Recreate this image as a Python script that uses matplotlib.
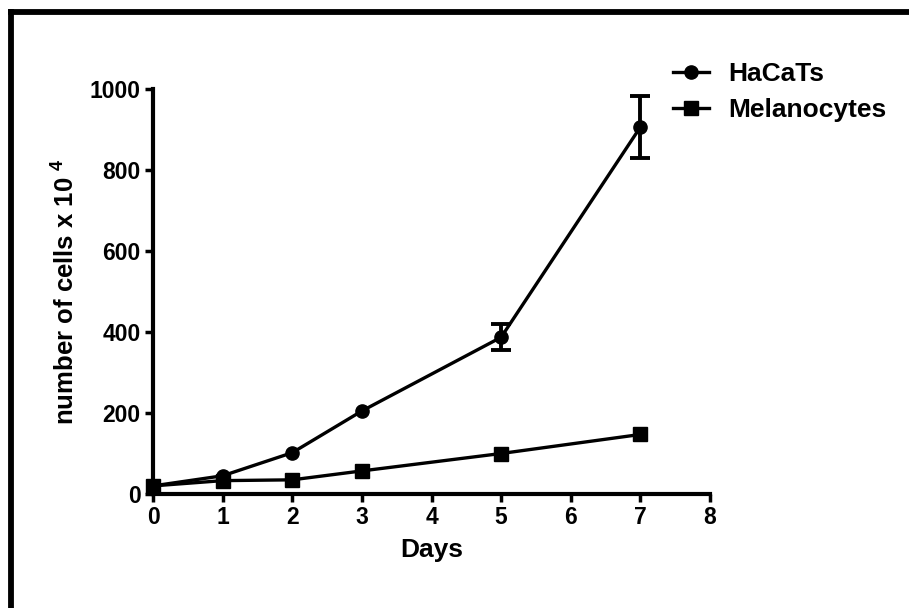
import matplotlib
matplotlib.use('Agg')
import matplotlib.pyplot as plt
from matplotlib.lines import Line2D

plt.rcParams['font.family'] = ['Liberation Sans', 'DejaVu Sans']
plt.rcParams['font.weight'] = 'bold'
plt.rcParams['mathtext.fontset'] = 'custom'
plt.rcParams['mathtext.bf'] = 'Liberation Sans:bold'
plt.rcParams['mathtext.rm'] = 'Liberation Sans:bold'

days = [0, 1, 2, 3, 5, 7]
hacat = [20, 45, 102, 205, 387, 906]
hacat_err = [0, 0, 0, 0, 32, 77]
melano = [20, 33, 35, 57, 100, 147]
melano_err = [0, 0, 0, 0, 0, 0]

x_ticks = [0, 1, 2, 3, 4, 5, 6, 7, 8]
y_ticks = [0, 200, 400, 600, 800, 1000]

fig = plt.figure(figsize=(9.09, 6.08), dpi=100)
ax = fig.add_axes([153 / 909, 1 - 494 / 608, (710 - 153) / 909, (494 - 89) / 608])

lw = 2.4
series = [(hacat, hacat_err, 'o', 'HaCaTs'), (melano, melano_err, 's', 'Melanocytes')]
for vals, errs, mk, name in series:
    ax.plot(days, vals, color='black', lw=lw, marker=mk, ms=9.5, label=name, clip_on=False)
    # only draw error bars that stick out past the marker
    idx = [i for i, e in enumerate(errs) if e > 0]
    if idx:
        ax.errorbar([days[i] for i in idx], [vals[i] for i in idx],
                    yerr=[errs[i] for i in idx], fmt='none', ecolor='black',
                    elinewidth=2.8, capsize=7.5, capthick=2.8, clip_on=False)

ax.set_xlim(0, 8)
ax.set_ylim(0, 1000)
ax.set_xticks(x_ticks)
ax.set_yticks(y_ticks)
ax.spines['top'].set_visible(False)
ax.spines['right'].set_visible(False)
for s in ('left', 'bottom'):
    ax.spines[s].set_linewidth(3)
ax.tick_params(direction='out', length=6, width=2.5, labelsize=16.5, pad=3)
for lab in ax.get_xticklabels() + ax.get_yticklabels():
    lab.set_fontweight('bold')

ax.set_xlabel('Days', fontsize=19, fontweight='bold', labelpad=6)
ax.set_ylabel('number of cells x 10 $^{\\mathbf{4}}$', fontsize=18.5, fontweight='bold',
              labelpad=8)

handles = [Line2D([], [], color='black', lw=lw, marker='o', ms=9.5),
           Line2D([], [], color='black', lw=lw, marker='s', ms=9.5)]
leg = fig.legend(handles, ['HaCaTs', 'Melanocytes'], loc='upper left',
                 bbox_to_anchor=(673 / 909, 1 - 62 / 608), frameon=False,
                 prop={'size': 19, 'weight': 'bold'}, handlelength=1.35,
                 handletextpad=0.75, labelspacing=0.45, borderaxespad=0,
                 borderpad=0)

# frame lines along the top and left edges
fig.add_artist(Line2D([10.5 / 909, 1], [1 - 12 / 608, 1 - 12 / 608], color='black',
                      lw=4.2, solid_capstyle='projecting'))
fig.add_artist(Line2D([10.5 / 909, 10.5 / 909], [0, 1 - 12 / 608], color='black',
                      lw=4.2, solid_capstyle='projecting'))

fig.savefig('out.png', dpi=100, facecolor='white')
